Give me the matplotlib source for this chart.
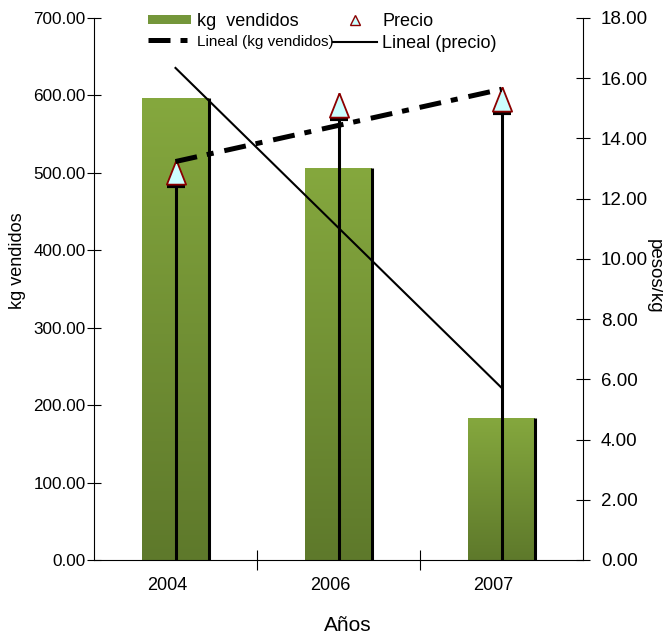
import numpy as np
import matplotlib.pyplot as plt
from matplotlib.colors import LinearSegmentedColormap
from matplotlib.lines import Line2D
from matplotlib.patches import Patch
from matplotlib.transforms import offset_copy, ScaledTranslation

anios = ['2004', '2006', '2007']
kg_vendidos = [597, 506, 184]
precio = [12.9, 15.1, 15.3]

plt.rcParams['font.family'] = ['Liberation Sans', 'DejaVu Sans']

fig = plt.figure(figsize=(6.63, 6.35), dpi=100)
ax = fig.add_axes([94 / 663, 75 / 635, 489 / 663, 542 / 635])
ax2 = ax.twinx()

x = np.arange(len(anios))
ancho = 0.41

# bars with a vertical green gradient
barras = ax.bar(x, kg_vendidos, width=ancho, color='#74963a', zorder=1)
verde = LinearSegmentedColormap.from_list('verde', ['#5e792b', '#85a83e'])
grad = np.linspace(0, 1, 256).reshape(-1, 1)
for b in barras:
    x0 = b.get_x()
    im = ax.imshow(grad, extent=[x0, x0 + b.get_width(), 0, b.get_height()],
                   origin='lower', aspect='auto', cmap=verde, zorder=1.5)
    im.set_clip_path(b)
ax.vlines(x + ancho / 2, 0, kg_vendidos, color='black', lw=2.2, zorder=3)

# linear trend of kg sold
ext = x[[0, -1]]
coef_kg = np.polyfit(x, kg_vendidos, 1)
ax.plot(ext, np.polyval(coef_kg, ext), color='black', lw=1.5, zorder=4)

# price points, drop lines and trend
ax2.vlines(x, 0, precio, color='black', lw=2.2, zorder=3)
ax2.plot(x, precio, ls='none', marker='_', ms=13, mew=3, color='black', zorder=3,
         transform=offset_copy(ax2.transData, fig=fig, y=-14, units='dots'))
tri = [(0, 12), (-9.5, -12), (9.5, -12), (0, 12)]
ax2.plot(x, precio, ls='none', marker=tri, ms=17.5, mfc='#ccffff', mec='#8b0000',
         mew=1.3, zorder=5)
coef_p = np.polyfit(x, precio, 1)
ax2.plot(ext, np.polyval(coef_p, ext), color='black', lw=3.6,
         dashes=(4.4, 2, 1.4, 2.2), zorder=6)

ax.set_xlim(-0.5, 2.5)
ax.set_ylim(0, 700)
ax2.set_ylim(0, 18)

ax.set_yticks(np.arange(0, 701, 100))
ax.set_yticklabels([f'{v:.2f}' for v in np.arange(0, 701, 100)])
ax2.set_yticks(np.arange(0, 19, 2))
ax2.set_yticklabels([f'{v:.2f}' for v in np.arange(0, 19, 2)])

ax.set_xticks([0.5, 1.5])
ax.set_xticklabels([])
ax.set_xticks(x, minor=True)
ax.set_xticklabels(anios, minor=True, fontsize=13)
ax.tick_params(axis='x', which='major', direction='inout', length=15, width=0.8)
ax.tick_params(axis='x', which='minor', length=0, pad=12)
ax.tick_params(axis='y', direction='inout', length=10, width=0.8, labelsize=12.3, pad=1)
ax2.tick_params(axis='y', direction='inout', length=10, width=0.8, labelsize=13.5, pad=8)

# year labels sit a little left of the category centres
desplaza = ScaledTranslation(-8 / 100, 0, fig.dpi_scale_trans)
for t in ax.get_xticklabels(minor=True):
    t.set_transform(t.get_transform() + desplaza)

for s in ['top', 'right']:
    ax.spines[s].set_visible(False)
for s in ['top', 'left', 'bottom']:
    ax2.spines[s].set_visible(False)
for s in ax.spines.values():
    s.set_linewidth(0.8)
ax2.spines['right'].set_linewidth(0.8)

ax.set_ylabel('kg vendidos', fontsize=13, va='center')
ax.yaxis.set_label_coords(-0.157, 0.552)
ax2.set_ylabel('pesos/kg', fontsize=13.5, rotation=270, va='center')
ax2.yaxis.set_label_coords(1.145, 0.524)
ax.set_xlabel('Años', fontsize=15, va='center')
ax.xaxis.set_label_coords(0.519, -0.12)

h_kg = Patch(facecolor='#74963a')
h_lkg = Line2D([], [], color='black', lw=3.6, dashes=(4.4, 2, 1.4, 2.2))
h_precio = Line2D([], [], ls='none', marker='^', ms=7, mfc='#ccffff', mec='#8b0000')
h_lp = Line2D([], [], color='black', lw=1.5)
leg = ax2.legend([h_kg, h_lkg, h_precio, h_lp],
                 ['kg  vendidos', 'Lineal (kg vendidos)', 'Precio', 'Lineal (precio)'],
                 ncol=2, loc='upper left', bbox_to_anchor=(148 / 663, 1 - 13 / 635),
                 bbox_transform=fig.transFigure, frameon=False, fontsize=13,
                 handlelength=2.4, handleheight=0.45, handletextpad=0.3,
                 columnspacing=0, labelspacing=0.25, borderpad=0, borderaxespad=0)
leg.get_texts()[1].set_fontsize(11)

fig.savefig('out.png', dpi=100)
